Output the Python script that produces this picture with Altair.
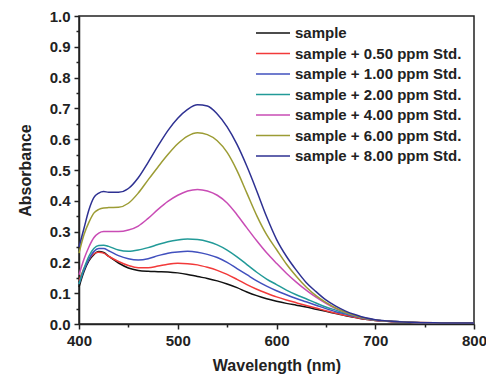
import altair as alt
import pandas as pd

wavelength = [400, 405, 410, 415, 420, 425, 430, 440, 450, 460, 470, 480, 490, 500,
              510, 520, 530, 540, 550, 560, 570, 580, 590, 600, 610, 620, 630, 640,
              650, 660, 670, 680, 690, 700, 720, 740, 760, 780, 800]

series_names = ["sample", "sample + 0.50 ppm Std.", "sample + 1.00 ppm Std.",
                "sample + 2.00 ppm Std.", "sample + 4.00 ppm Std.",
                "sample + 6.00 ppm Std.", "sample + 8.00 ppm Std."]
series_colors = ["#111111", "#f23a3a", "#4150be", "#229a98", "#c94cb5", "#9c9c34", "#2e3192"]

sample = [0.12, 0.17, 0.205, 0.225, 0.235, 0.232, 0.22, 0.198, 0.182, 0.174, 0.171, 0.17, 0.169, 0.166,
          0.161, 0.154, 0.148, 0.14, 0.13, 0.118, 0.104, 0.092, 0.082, 0.074, 0.067, 0.061, 0.055, 0.048,
          0.041, 0.034, 0.027, 0.021, 0.015, 0.011, 0.007, 0.005, 0.004, 0.003, 0.003]
std_050 = [0.14, 0.18, 0.21, 0.228, 0.233, 0.23, 0.22, 0.203, 0.19, 0.183, 0.183, 0.188, 0.194, 0.197,
           0.196, 0.192, 0.184, 0.174, 0.161, 0.145, 0.128, 0.113, 0.1, 0.088, 0.078, 0.069, 0.06, 0.052,
           0.043, 0.035, 0.028, 0.021, 0.015, 0.011, 0.007, 0.005, 0.004, 0.003, 0.003]
std_100 = [0.13, 0.175, 0.21, 0.235, 0.245, 0.245, 0.238, 0.222, 0.212, 0.208, 0.212, 0.222, 0.23, 0.234,
           0.236, 0.233, 0.226, 0.216, 0.2, 0.18, 0.16, 0.14, 0.123, 0.108, 0.095, 0.083, 0.072, 0.061,
           0.05, 0.04, 0.032, 0.024, 0.017, 0.012, 0.008, 0.005, 0.004, 0.003, 0.003]
std_200 = [0.13, 0.18, 0.22, 0.245, 0.255, 0.256, 0.252, 0.24, 0.236, 0.24, 0.248, 0.258, 0.267, 0.273,
           0.276, 0.274, 0.268, 0.257, 0.24, 0.218, 0.193, 0.168, 0.146, 0.128, 0.11, 0.095, 0.082, 0.068,
           0.055, 0.045, 0.035, 0.026, 0.018, 0.013, 0.008, 0.005, 0.004, 0.003, 0.003]
std_400 = [0.16, 0.21, 0.25, 0.28, 0.295, 0.3, 0.3, 0.3, 0.305, 0.318, 0.343, 0.372, 0.398, 0.418,
           0.432, 0.437, 0.432, 0.418, 0.393, 0.355, 0.312, 0.27, 0.231, 0.197, 0.165, 0.136, 0.11, 0.087,
           0.067, 0.05, 0.037, 0.027, 0.019, 0.013, 0.008, 0.005, 0.004, 0.003, 0.003]
std_600 = [0.23, 0.29, 0.33, 0.36, 0.372, 0.377, 0.378, 0.379, 0.392, 0.425, 0.468, 0.51, 0.55, 0.585,
           0.61, 0.621, 0.615, 0.595, 0.557, 0.498, 0.425, 0.352, 0.29, 0.242, 0.195, 0.155, 0.12, 0.092,
           0.07, 0.052, 0.038, 0.027, 0.019, 0.013, 0.008, 0.005, 0.004, 0.003, 0.003]
std_800 = [0.25, 0.31, 0.37, 0.41, 0.425, 0.43, 0.428, 0.428, 0.44, 0.475, 0.525, 0.578, 0.628, 0.668,
           0.697, 0.712, 0.708, 0.682, 0.64, 0.583, 0.512, 0.432, 0.348, 0.275, 0.22, 0.175, 0.135, 0.105,
           0.078, 0.058, 0.042, 0.030, 0.020, 0.014, 0.008, 0.005, 0.004, 0.003, 0.003]

series_values = [sample, std_050, std_100, std_200, std_400, std_600, std_800]

x_ticks = [400, 450, 500, 550, 600, 650, 700, 750, 800]
y_ticks = [0.0, 0.05, 0.1, 0.15, 0.2, 0.25, 0.3, 0.35, 0.4, 0.45, 0.5,
           0.55, 0.6, 0.65, 0.7, 0.75, 0.8, 0.85, 0.9, 0.95, 1.0]

rows = []
for name, vals in zip(series_names, series_values):
    for w, a in zip(wavelength, vals):
        rows.append({"wl": w, "A": a, "series": name})
df = pd.DataFrame(rows)

FONT = "Liberation Sans"
TXT = "#222222"

x_axis = alt.Axis(
    values=x_ticks, title="Wavelength (nm)",
    labelExpr="datum.value % 100 === 0 ? datum.label : ''",
    tickSize={"condition": {"test": "datum.value % 100 === 0", "value": 5}, "value": 3},
    labelFont=FONT, labelFontSize=15, labelFontWeight="bold", labelColor=TXT,
    titleFont=FONT, titleFontSize=16, titleFontWeight="bold", titleColor=TXT,
    titlePadding=9, labelPadding=4, labelOverlap=False, labelFlush=False,
    grid=False, domainColor=TXT, domainWidth=1.5, tickColor=TXT, tickWidth=1.5,
)
y_axis = alt.Axis(
    values=y_ticks, title="Absorbance", format=".1f",
    labelExpr="round(datum.value * 20) % 2 === 0 ? datum.label : ''",
    tickSize={"condition": {"test": "round(datum.value * 20) % 2 === 0", "value": 5}, "value": 3},
    labelFont=FONT, labelFontSize=15, labelFontWeight="bold", labelColor=TXT,
    titleFont=FONT, titleFontSize=16, titleFontWeight="bold", titleColor=TXT,
    titlePadding=16, labelPadding=4, labelOverlap=False, labelFlush=False,
    grid=False, domainColor=TXT, domainWidth=1.5, tickColor=TXT, tickWidth=1.5,
)

legend = alt.Legend(
    title=None, orient="none", legendX=176, legendY=7, padding=0,
    symbolType="stroke", symbolSize=1156, symbolStrokeWidth=1.5, clipHeight=20,
    rowPadding=0.5, labelOffset=4, labelLimit=300,
    labelFont=FONT, labelFontSize=15, labelFontWeight="bold", labelColor=TXT,
)

chart = alt.Chart(df).mark_line(strokeWidth=1.5, interpolate="monotone").encode(
    x=alt.X("wl:Q", scale=alt.Scale(domain=[400, 800], nice=False, zero=False), axis=x_axis),
    y=alt.Y("A:Q", scale=alt.Scale(domain=[0, 1], nice=False), axis=y_axis),
    color=alt.Color("series:N", sort=series_names,
                    scale=alt.Scale(domain=series_names, range=series_colors), legend=legend),
).properties(
    width=395, height=308,
    padding={"left": 71, "top": 8, "right": 12, "bottom": 52},
    autosize=alt.AutoSizeParams(type="none"),
    background="white",
).configure_view(stroke=TXT, strokeWidth=1.5)

chart.save("out.html", embed_options={"renderer": "svg", "actions": False})
